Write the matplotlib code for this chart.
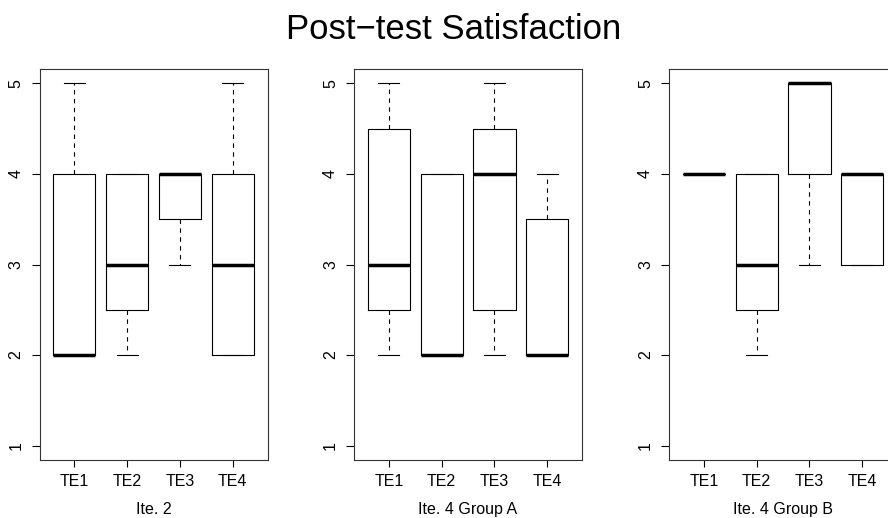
import matplotlib
matplotlib.use("Agg")
import matplotlib.pyplot as plt
import matplotlib.transforms as mtransforms

plt.rcParams['font.family'] = ['Liberation Sans', 'DejaVu Sans']

# Grupos y paneles
groups = ["TE1", "TE2", "TE3", "TE4"]
panel_labels = ["Ite. 2", "Ite. 4 Group A", "Ite. 4 Group B"]

# Estadísticos de cada caja (mín., Q1, mediana, Q3, máx.) por panel
whislo = [[2, 2, 3, 2], [2, 2, 2, 2], [4, 2, 3, 3]]
q1 = [[2, 2.5, 3.5, 2], [2.5, 2, 2.5, 2], [4, 2.5, 4, 3]]
med = [[2, 3, 4, 3], [3, 2, 4, 2], [4, 3, 5, 4]]
q3 = [[4, 4, 4, 4], [4.5, 4, 4.5, 3.5], [4, 4, 5, 4]]
whishi = [[5, 4, 4, 5], [5, 4, 5, 4], [4, 4, 5, 4]]

W, H = 888, 518
fig = plt.figure(figsize=(W / 100, H / 100), dpi=100)

lefts = [39.5, 354, 669]
ax_w, ax_top, ax_bot = 228, 69, 460

lw = 0.8
for p in range(3):
    ax = fig.add_axes([lefts[p] / W, (H - ax_bot) / H, ax_w / W, (ax_bot - ax_top) / H])
    stats = []
    for i, g in enumerate(groups):
        stats.append(dict(label=g, whislo=whislo[p][i], q1=q1[p][i], med=med[p][i],
                          q3=q3[p][i], whishi=whishi[p][i], fliers=[]))
    ax.bxp(stats, positions=[1, 2, 3, 4], widths=0.8, capwidths=0.4,
           showfliers=False,
           boxprops=dict(color='black', linewidth=lw),
           whiskerprops=dict(color='black', linewidth=lw, linestyle=(0, (4, 4))),
           capprops=dict(color='black', linewidth=lw),
           medianprops=dict(color='black', linewidth=2.5, solid_capstyle='butt'))
    ax.set_xlim(0.34, 4.66)
    ax.set_ylim(0.84, 5.16)
    ax.set_yticks([1, 2, 3, 4, 5])
    ax.set_yticklabels(["1", "2", "3", "4", "5"])
    ax.tick_params(axis='y', labelrotation=90, length=5.5, width=lw, pad=6, labelsize=11.5)
    ax.tick_params(axis='x', length=5, width=lw, pad=5, labelsize=11.5)
    for lab in ax.get_yticklabels():
        lab.set_verticalalignment('center')
    for s in ax.spines.values():
        s.set_linewidth(lw)
        s.set_color('#333333')
    ax.text(0.5, (ax_bot - 514) / (ax_bot - ax_top), panel_labels[p],
            transform=ax.transAxes, ha='center', va='baseline', fontsize=11.5)

fig.text(453.5 / W, 1 - 39 / H, "Post\u2212test Satisfaction",
         ha='center', va='baseline', fontsize=25)

fig.savefig("out.png", dpi=100)
